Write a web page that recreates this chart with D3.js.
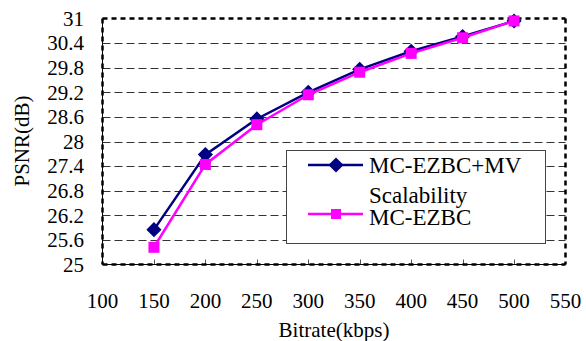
<!DOCTYPE html>
<html>
<head>
<meta charset="utf-8">
<script src="https://cdn.jsdelivr.net/npm/d3@7.9.0/dist/d3.min.js"></script>
</head>
<body style="margin:0; background:#fff">
<svg id="chart" width="586" height="341"></svg>
<script>
const bitrates = [150, 200, 250, 300, 350, 400, 450, 500];
const mvScalable = [25.85, 27.68, 28.55, 29.2, 29.76, 30.2, 30.56, 30.94];
const ezbc = [25.42, 27.44, 28.41, 29.14, 29.69, 30.15, 30.53, 30.94];
const xTicks = [100, 150, 200, 250, 300, 350, 400, 450, 500, 550];
const yTicks = [25, 25.6, 26.2, 26.8, 27.4, 28, 28.6, 29.2, 29.8, 30.4, 31];

const svg = d3.select('#chart');
const plotL = 102.5, plotR = 565.5, plotT = 18.5, plotB = 264.5;

const x = d3.scaleLinear().domain([100, 550]).range([plotL, plotR]);
const y = d3.scaleLinear().domain([25, 31]).range([plotB, plotT]);

// grid lines
svg.append('g').selectAll('line')
  .data(yTicks.slice(1, -1))
  .join('line')
  .attr('x1', plotL).attr('x2', plotR)
  .attr('y1', d => Math.round(y(d)) + 0.5).attr('y2', d => Math.round(y(d)) + 0.5)
  .attr('stroke', '#333').attr('stroke-width', 1)
  .attr('stroke-dasharray', '8,4');

// x ticks (inside, from bottom)
svg.append('g').selectAll('line')
  .data(xTicks.slice(1, -1))
  .join('line')
  .attr('x1', d => Math.round(x(d)) + 0.5).attr('x2', d => Math.round(x(d)) + 0.5)
  .attr('y1', plotB).attr('y2', plotB - 5)
  .attr('stroke', '#555');

// frame, dashed thick
const frame = svg.append('g').attr('fill', 'none').attr('stroke', '#000')
  .attr('stroke-width', 2.5).attr('stroke-dasharray', '5,4');
frame.append('line').attr('x1', plotL).attr('x2', plotR).attr('y1', plotT).attr('y2', plotT);
frame.append('line').attr('x1', plotL).attr('x2', plotR).attr('y1', plotB).attr('y2', plotB);
frame.append('line').attr('x1', plotL).attr('x2', plotL).attr('y1', plotT).attr('y2', plotB);
frame.append('line').attr('x1', plotR).attr('x2', plotR).attr('y1', plotT).attr('y2', plotB);
svg.append('line').attr('x1', plotL).attr('x2', plotR).attr('y1', plotB).attr('y2', plotB)
  .attr('stroke', '#000').attr('stroke-width', 1);
svg.append('line').attr('x1', plotL).attr('x2', plotL).attr('y1', plotT).attr('y2', plotB)
  .attr('stroke', '#000').attr('stroke-width', 1);

// y tick labels
svg.append('g').selectAll('text')
  .data(yTicks)
  .join('text')
  .attr('x', 84).attr('y', d => y(d))
  .attr('dy', '0.35em')
  .attr('text-anchor', 'end')
  .attr('font-size', 21)
  .text(d => d);

// x tick labels
svg.append('g').selectAll('text')
  .data(xTicks)
  .join('text')
  .attr('x', d => x(d)).attr('y', 301)
  .attr('dy', '0.35em')
  .attr('text-anchor', 'middle')
  .attr('font-size', 21)
  .text(d => d);

svg.append('text')
  .attr('transform', 'translate(22,141) rotate(-90)')
  .attr('text-anchor', 'middle').attr('dy', '0.35em')
  .attr('font-size', 21)
  .text('PSNR(dB)');

svg.append('text')
  .attr('x', 334).attr('y', 330)
  .attr('text-anchor', 'middle').attr('dy', '0.35em')
  .attr('font-size', 21)
  .text('Bitrate(kbps)');

const line = d3.line().x((d, i) => x(bitrates[i])).y(d => y(d));
const diamond = d3.symbol().type(d3.symbolSquare).size(115);

// MC-EZBC+MV scalability series
svg.append('path').datum(mvScalable)
  .attr('d', line).attr('fill', 'none')
  .attr('stroke', '#000080').attr('stroke-width', 2.5);
svg.append('g').selectAll('path')
  .data(mvScalable)
  .join('path')
  .attr('d', diamond)
  .attr('transform', (d, i) => `translate(${x(bitrates[i])},${y(d)}) rotate(45)`)
  .attr('fill', '#000080');

// MC-EZBC series
svg.append('path').datum(ezbc)
  .attr('d', line).attr('fill', 'none')
  .attr('stroke', '#ff00ff').attr('stroke-width', 2.5);
svg.append('g').selectAll('rect')
  .data(ezbc)
  .join('rect')
  .attr('x', (d, i) => x(bitrates[i]) - 5.5).attr('y', d => y(d) - 5.5)
  .attr('width', 11).attr('height', 11)
  .attr('fill', '#ff00ff');

// legend
const lg = svg.append('g');
lg.append('rect')
  .attr('x', 286.5).attr('y', 150.5).attr('width', 259).attr('height', 93)
  .attr('fill', '#fff').attr('stroke', '#444').attr('stroke-width', 1);
lg.append('line').attr('x1', 308).attr('x2', 363).attr('y1', 165).attr('y2', 165)
  .attr('stroke', '#000080').attr('stroke-width', 2.5);
lg.append('path').attr('d', diamond).attr('transform', 'translate(336,165) rotate(45)')
  .attr('fill', '#000080');
lg.append('text').attr('x', 369).attr('y', 165).attr('dy', '0.35em')
  .attr('font-size', 23).text('MC-EZBC+MV');
lg.append('text').attr('x', 369).attr('y', 195).attr('dy', '0.35em')
  .attr('font-size', 23).text('Scalability');
lg.append('line').attr('x1', 308).attr('x2', 363).attr('y1', 214).attr('y2', 214)
  .attr('stroke', '#ff00ff').attr('stroke-width', 2.5);
lg.append('rect').attr('x', 331).attr('y', 209).attr('width', 10).attr('height', 10)
  .attr('fill', '#ff00ff');
lg.append('text').attr('x', 369).attr('y', 217).attr('dy', '0.35em')
  .attr('font-size', 23).text('MC-EZBC');

// serif font on every text, forced
svg.selectAll('text')
  .attr('font-family', 'Liberation Serif')
  .style('font-family', '"Liberation Serif", "Times New Roman", serif', 'important')
  .style('fill', '#000');
</script>
</body>
</html>
